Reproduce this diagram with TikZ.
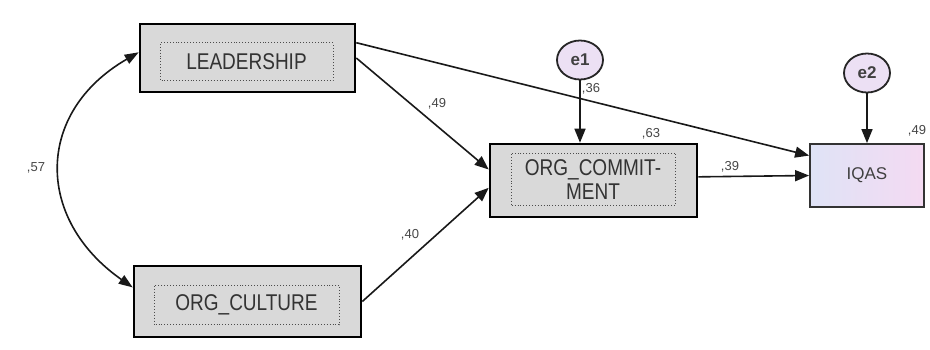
\documentclass[tikz,border=0pt]{standalone}
\usepackage{fontspec}
\setmainfont{Liberation Sans}
\usetikzlibrary{arrows.meta}
\usetikzlibrary{shapes.geometric}
\definecolor{amosGray}{HTML}{D9D9D9}
\definecolor{amosLilac}{HTML}{ECE0F4}
\definecolor{amosBlue}{HTML}{DFE3F6}
\definecolor{amosPink}{HTML}{F4DAF2}
\definecolor{amosText}{HTML}{474747}

\begin{document}
\begin{tikzpicture}[x=1pt, y=1pt,
  obsbox/.style={draw=black, line width=2.6pt, fill=amosGray, inner sep=0pt},
  dotbox/.style={draw=black!70, dotted, line width=0.9pt, inner sep=0pt, align=center,
    yscale=1.2, transform shape,
    font=\fontsize{19}{20}\selectfont, text=black!80},
  errnode/.style={ellipse, draw=black!85, line width=1.8pt, fill=amosLilac,
    minimum width=46pt, minimum height=39pt, inner sep=0pt,
    font=\fontsize{17}{19}\selectfont\bfseries, text=black!75},
  coef/.style={font=\fontsize{13}{15}\selectfont, text=amosText, inner sep=0pt},
  path/.style={draw=black!90, line width=1.6pt, -{Triangle[length=14pt, width=11pt]}},
  covpath/.style={draw=black!90, line width=1.6pt,
    {Triangle[length=14pt, width=10pt]}-{Triangle[length=14pt, width=10pt]}}]

  \useasboundingbox[fill=white] (0,0) rectangle (930,-349);

  % observed variables
  \node[obsbox, minimum width=215pt, minimum height=68pt] (lead) at (247.5,-58) {};
  \node[dotbox, minimum width=173pt, minimum height=31pt] (leadtxt) at (246.5,-61.5) {LEADERSHIP};
  \node[obsbox, minimum width=227pt, minimum height=71pt] (cult) at (247.5,-301.5) {};
  \node[dotbox, minimum width=185pt, minimum height=33pt] (culttxt) at (246.5,-305) {ORG\_CULTURE};
  \node[obsbox, minimum width=207pt, minimum height=73pt] (comm) at (593.5,-180.5) {};
  \node[dotbox, minimum width=164pt, minimum height=44pt] (commtxt) at (593,-179.5) {ORG\_COMMIT-\\MENT};
  \node[draw=black!80, line width=1.8pt, left color=amosBlue, right color=amosPink,
    minimum width=114pt, minimum height=63pt, inner sep=0pt,
    font=\fontsize{17}{19}\selectfont, text=black!75] (iqas) at (867,-175.5) {IQAS};

  % error terms
  \node[errnode] (e1) at (580,-60) {e1};
  \node[errnode] (e2) at (867,-73) {e2};

  % paths
  \draw[covpath] (lead.177) to[out=210, in=145, looseness=1.3] (cult.173);
  \draw[path] (lead.east) -- (comm.174);
  \draw[path] (lead.8) -- (iqas.161);
  \draw[path] (cult.east) -- (comm.184);
  \draw[path] (comm.2) -- (iqas.west);
  \draw[path] (e1.south) -- (e1.south |- comm.north);
  \draw[path] (e2.south) -- (iqas.north);

  % estimates
  \node[coef] (c57) at (36,-168) {,57};
  \node[coef] (c49a) at (437,-104) {,49};
  \node[coef] (c40) at (410,-235) {,40};
  \node[coef] (c36) at (591,-89) {,36};
  \node[coef] (c63) at (651,-134) {,63};
  \node[coef] (c39) at (730,-167) {,39};
  \node[coef] (c49b) at (917,-131) {,49};
\end{tikzpicture}
\end{document}
